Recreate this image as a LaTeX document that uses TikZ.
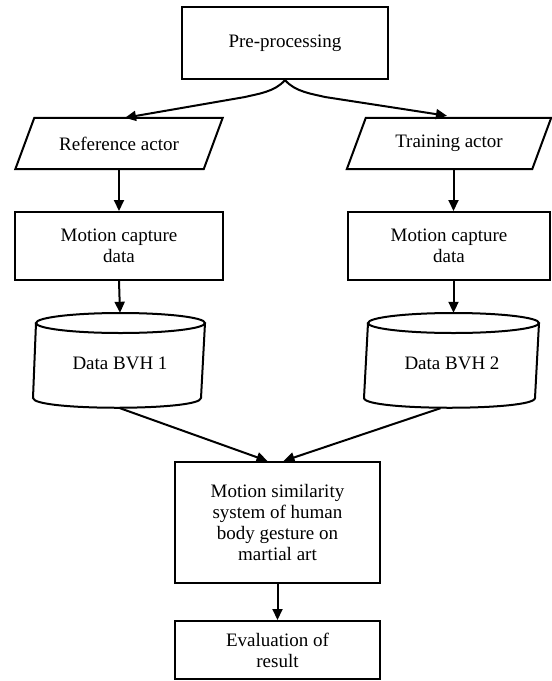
\documentclass[tikz,border=0pt]{standalone}
\usepackage{fontspec}
\setmainfont{Liberation Serif}
\usetikzlibrary{arrows.meta,calc}
\begin{document}
\begin{tikzpicture}[x=1pt,y=-1pt,
  lw/.style={line width=2pt},
  txtfont/.style={font=\fontsize{19}{21}\selectfont},
  box/.style={draw,lw,rectangle,inner sep=0pt,align=center,txtfont},
  ghost/.style={rectangle,inner sep=0pt,align=center,txtfont},
  arr/.style={lw,-{Triangle[length=11pt,width=10pt]}},
]
\useasboundingbox (0,0) rectangle (552,681);

% boxes
\node[box,minimum width=206,minimum height=72] (pre) at (285,43) {Pre-processing};
\node[ghost,minimum width=188,minimum height=51] (ref) at (119,143.5) {Reference actor};
\node[ghost,minimum width=185,minimum height=51] (trn) at (449,143.5) {Training actor};
\draw[lw] ([xshift=9.5]ref.north west) -- ([xshift=9.5]ref.north east)
  -- ([xshift=-9.5]ref.south east) -- ([xshift=-9.5]ref.south west) -- cycle;
\draw[lw] ([xshift=9.5]trn.north west) -- ([xshift=9.5]trn.north east)
  -- ([xshift=-9.5]trn.south east) -- ([xshift=-9.5]trn.south west) -- cycle;

\node[box,minimum width=208,minimum height=68] (mc1) at (119,246) {Motion capture\\data};
\node[box,minimum width=202,minimum height=68] (mc2) at (449,246) {Motion capture\\data};

% cylinders
\node[ghost,minimum width=169,minimum height=95] (cyl1) at (120,360.5) {};
\node[ghost,minimum width=171,minimum height=95] (cyl2) at (453.5,360.5) {};
\draw[lw] (120.5,323) ellipse [x radius=84.5, y radius=10];
\draw[lw] (36,323) -- (33,398) .. controls (33,411) and (201,411) .. (201,398) -- (205,323);
\draw[lw] (453.5,323) ellipse [x radius=85.5, y radius=10];
\draw[lw] (368,323) -- (364,398) .. controls (364,411) and (535,411) .. (535,398) -- (539,323);
\node[ghost] (bvh1) at (120,363) {Data BVH 1};
\node[ghost] (bvh2) at (452,363) {Data BVH 2};

\node[box,minimum width=205,minimum height=121] (sim) at (277.5,522.5)
  {Motion similarity\\system of human\\body gesture on\\martial art};
\node[box,minimum width=205,minimum height=58] (eval) at (277.5,650) {Evaluation of\\result};

% connectors
\draw[arr] (pre.south) .. controls +(-10,12) and +(12,-3) .. ++(-40,17) -- ([xshift=6]ref.north);
\draw[arr] (pre.south) .. controls +(10,12) and +(-12,-3) .. ++(40,17) -- ([xshift=-2,yshift=2]trn.north);
\draw[arr] (ref.south) -- (mc1.north);
\draw[arr] (trn.south -| cyl2.north) -- (mc2.north -| cyl2.north);
\draw[arr] (mc1.south) -- (cyl1.north);
\draw[arr] (mc2.south -| cyl2.north) -- (cyl2.north);
\draw[arr] (cyl1.south) -- ([xshift=-10]sim.north);
\draw[arr] ([xshift=-13]cyl2.south) -- ([xshift=6]sim.north);
\draw[arr] (sim.south) -- (eval.north);
\end{tikzpicture}
\end{document}
